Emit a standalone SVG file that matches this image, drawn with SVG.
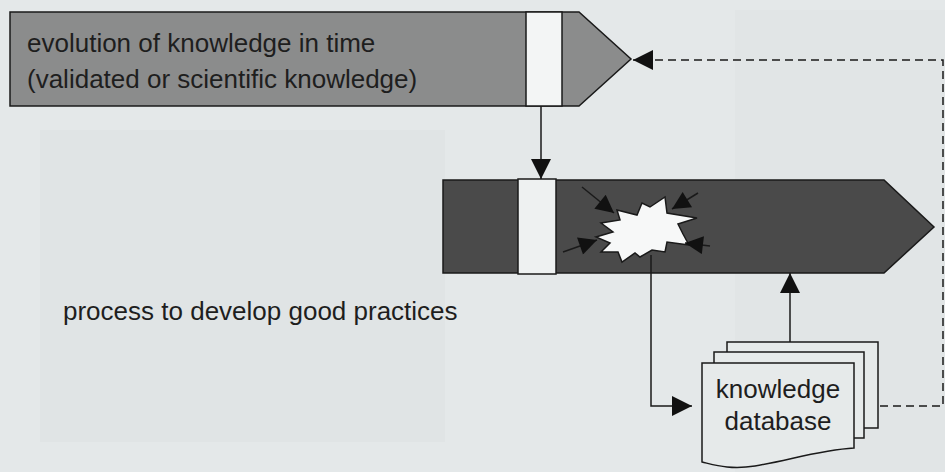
<svg xmlns="http://www.w3.org/2000/svg" width="945" height="472" viewBox="0 0 945 472">
<style>
.t{font-family:"Liberation Sans",Arial,sans-serif;font-size:26px;fill:#1e1e1e}
.o{stroke:#1a1a1a;stroke-width:1.5}
.c{fill:none;stroke:#1a1a1a;stroke-width:1.5}
.d{fill:none;stroke:#1a1a1a;stroke-width:1.5;stroke-dasharray:8 5}
</style>
<defs>
<marker id="ahb" viewBox="0 0 10 10" refX="10" refY="5" markerWidth="22" markerHeight="20" markerUnits="userSpaceOnUse" orient="auto"><path d="M0,0 L10,5 L0,10 z" fill="#111"/></marker>
<marker id="ahs" viewBox="0 0 10 10" refX="10" refY="5" markerWidth="22" markerHeight="18" markerUnits="userSpaceOnUse" orient="auto"><path d="M0,0 L10,5 L0,10 z" fill="#111"/></marker>
</defs>
<rect width="945" height="472" fill="#e4e8e9"/>
<rect x="40" y="130" width="405" height="312" fill="#e0e4e5"/>
<rect x="735" y="10" width="210" height="462" fill="#e1e5e6"/>

<g id="knowledge-evolution">
<path class="o" d="M10,12 H579 L631,59 L579,106 H10 Z" fill="#8b8c8c"/>
<rect class="o" x="526" y="12" width="36" height="94" fill="#f3f5f5"/>
<text class="t" x="27" y="52">evolution of knowledge in time</text>
<text class="t" x="27" y="88">(validated or scientific knowledge)</text>
</g>

<g id="good-practices">
<path class="o" d="M443,180 H884 L934,227 L884,273 H443 Z" fill="#4a4a4a"/>
<rect class="o" x="518" y="179" width="38" height="95" fill="#eef1f1"/>
<path class="o" fill="#f7f8f8" d="M617,210 L637,215 L642,203 L650,207 L665,197 L667,213 L697,218 L678,224 L683,234 L689,245 L667,242 L665,252 L652,250 L640,257 L635,253 L622,262 L618,252 L601,252 L610,243 L596,237 L613,232 L601,223 L620,220 Z"/>
<line class="c" x1="582" y1="187" x2="614" y2="213" marker-end="url(#ahs)"/>
<line class="c" x1="698" y1="193" x2="672" y2="209" marker-end="url(#ahs)"/>
<line class="c" x1="563" y1="252" x2="597" y2="240" marker-end="url(#ahs)"/>
<line class="c" x1="710" y1="246" x2="685" y2="243" marker-end="url(#ahs)"/>
</g>

<g id="process-label">
<text class="t" x="63" y="320">process to develop good practices</text>
</g>

<g id="knowledge-database">
<rect class="o" x="727" y="342" width="151" height="86" fill="#e6eaea"/>
<rect class="o" x="714" y="352" width="150" height="86" fill="#e6eaea"/>
<path class="o" fill="#e6eaea" d="M702,363 H854 V448 C820,450 790,460 755,466 C730,470 715,465 702,462 Z"/>
<text class="t" x="778" y="398" text-anchor="middle">knowledge</text>
<text class="t" x="778" y="430" text-anchor="middle">database</text>
</g>

<g id="connectors">
<line class="c" x1="541" y1="106" x2="541" y2="179" marker-end="url(#ahb)"/>
<polyline class="c" points="651,255 651,406 692,406" marker-end="url(#ahb)"/>
<line class="c" x1="790" y1="342" x2="790" y2="273" marker-end="url(#ahb)"/>
<polyline class="d" points="880,406 943,406 943,60 633,60" marker-end="url(#ahb)"/>
</g>
</svg>
